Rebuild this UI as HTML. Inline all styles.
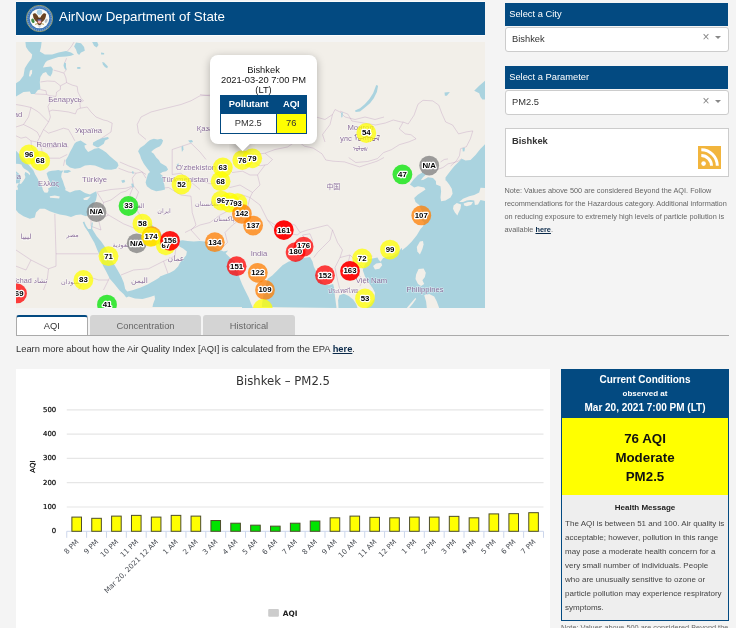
<!DOCTYPE html>
<html><head><meta charset="utf-8">
<style>
*{box-sizing:border-box;margin:0;padding:0}
html,body{width:736px;height:628px;overflow:hidden;background:#f4f4f4;font-family:"Liberation Sans",sans-serif;color:#333}
.abs{position:absolute}
#hdr{left:16px;top:1.9px;width:469px;height:33px;background:#034a81;box-shadow:0 -0.6px 0 #fff,0 0.8px 0 #fff}
#hdr .t{position:absolute;left:43px;top:7px;font-size:13.33px;color:#fff;line-height:16px;white-space:nowrap}
#map{left:16px;top:42px;width:469px;height:265.5px;background:#f2efe9;overflow:hidden}
#map svg{position:absolute;left:0;top:0}
.mk text{font:bold 7.8px "Liberation Sans",sans-serif;fill:#000;text-anchor:middle;paint-order:stroke;stroke:#fff;stroke-width:2.5px;stroke-linejoin:round}
.cl text{font:7.7px "Liberation Sans","DejaVu Sans","Noto Sans CJK SC",sans-serif;fill:#7b5a8e;text-anchor:middle;paint-order:stroke;stroke:rgba(255,255,255,.7);stroke-width:1px;opacity:.85}
#pop{left:210px;top:55px;width:107px;height:89px;background:#fff;border-radius:8px;box-shadow:0 2px 9px rgba(0,0,0,.27);font-size:9.33px;line-height:10.2px;text-align:center;color:#151515}
#pop .tx{position:absolute;left:0;top:9.5px;width:107px}
#tipc{left:229px;top:144px;width:27px;height:13.5px;overflow:hidden}
#tip{left:7.9px;top:-5.9px;width:11.3px;height:11.3px;background:#fff;transform:rotate(45deg);box-shadow:0 2px 9px rgba(0,0,0,.4)}
#popcover{left:220px;top:130px;width:87px;height:14px;background:#fff}
#ptab{left:220px;top:95px;width:87px;height:38.6px;border:1px solid #034a81;background:#fff}
#ptab .h{position:absolute;left:0;top:0;width:85px;height:17.6px;background:#034a81;color:#fff;font-weight:bold;font-size:9.33px;line-height:17px}
#ptab .c{position:absolute;font-size:9.33px;line-height:19px;text-align:center;color:#333}
.ph{left:505.2px;width:222.8px;height:23px;background:#034a81;color:#fff;font-size:9.33px;line-height:22.5px;padding-left:4px}
.sel{left:505px;width:223.5px;height:24px;background:#fff;border:1px solid #ccc;border-radius:3px;font-size:9.33px;line-height:22px;padding-left:6px;color:#333}
.sel .x{position:absolute;right:18px;top:-1.6px;font-size:12px;color:#888}
.sel .a{position:absolute;right:6.5px;top:8.4px;width:0;height:0;border-left:3px solid transparent;border-right:3px solid transparent;border-top:3px solid #888}
#rss{left:505px;top:128px;width:223.5px;height:48.5px;background:#fff;border:1px solid #ccc}
#rss b{position:absolute;left:6px;top:5.5px;font-size:9.33px;line-height:12px;color:#333}
.note{left:504.5px;top:185.3px;width:232px;font-size:7.33px;line-height:12.85px;color:#666;white-space:nowrap}
.note b,.learn b{color:#0b2a4a;text-decoration:underline}
#tabline{left:16px;top:335px;width:713px;height:1px;background:#aaa}
.tab{top:315px;height:20px;font-size:9.33px;line-height:23.8px;text-align:center;color:#666;background:#d4d4d4;border-radius:3px 3px 0 0}
#tab1{left:16px;width:71.6px;background:#fff;color:#333;border:1px solid #aaa;border-top:2px solid #034a81;border-bottom:none;height:21px;line-height:19px}
.learn{left:16px;top:342.7px;font-size:9.33px;line-height:12px;color:#333;white-space:nowrap}
#chart{left:16px;top:369px;width:534px;height:259px;background:#fff}
#chart svg{position:absolute;left:0;top:0}
#chart text{font-family:"DejaVu Sans","Liberation Sans",sans-serif}
.yl{font-size:6.9px;fill:#000;stroke:#000;stroke-width:.2px}
.xl{font-size:7.2px;fill:#4a4e55}
#cc{left:561px;top:369px;width:168px;height:251.5px;background:#eee;border:1px solid #034a81}
#cc .h{position:absolute;left:0;top:0;width:166px;height:48.4px;background:#034a81;color:#fff;text-align:center;font-weight:bold;font-size:10px}
#cc .y{position:absolute;left:0;top:48.4px;width:166px;height:77px;background:#ffff00;color:#111;text-align:center;font-weight:bold;font-size:13.33px;line-height:19.3px;padding-top:10.2px}
#cc .hm{position:absolute;left:0;top:131.7px;width:166px;text-align:center;font-weight:bold;font-size:8px;line-height:12px;color:#222}
#cc .tx{position:absolute;left:3.1px;top:146.7px;width:170px;font-size:8px;line-height:14.05px;color:#444;white-space:nowrap}
.note2{left:561px;top:621.7px;font-size:7.33px;line-height:12px;color:#666;white-space:nowrap}
</style></head><body>
<div class="abs" id="hdr">
<svg class="abs" style="left:9.9px;top:3px" width="27" height="27" viewBox="0 0 27 27">
<circle cx="13.5" cy="13.5" r="13.1" fill="#3a72b4" stroke="#c4b45a" stroke-width="0.8"/>
<circle cx="13.5" cy="13.5" r="11.9" fill="none" stroke="#6d9bd0" stroke-width="1.6" stroke-dasharray="1.2 0.9"/>
<circle cx="13.5" cy="13.5" r="9.8" fill="#fbfbf8"/>
<circle cx="13.5" cy="7.3" r="2.7" fill="#a9d0e6"/>
<path d="M12.8 17.4 C9.6 17 7.3 14 6.9 9.4 C7.5 8.3 8.6 8 9.6 8.6 C11 9.8 12.6 11.8 13.3 13.8Z" fill="#6a4323"/>
<path d="M14.2 17.4 C17.4 17 19.7 14 20.1 9.4 C19.5 8.3 18.4 8 17.4 8.6 C16 9.8 14.4 11.8 13.7 13.8Z" fill="#6a4323"/>
<path d="M11.2 13.4 L13.5 11.4 L15.8 13.4 L15.6 19 L13.5 20.4 L11.4 19Z" fill="#5a3a20"/>
<circle cx="13.5" cy="11.6" r="1.2" fill="#f1ede2"/>
<path d="M11.7 14.4 h3.6 v3.2 q-1.8 2 -3.6 0z" fill="#ee7f86"/><rect x="11.7" y="14.4" width="3.6" height="1.2" fill="#2a4f96"/>
<path d="M12.6 15.6v2.6M13.5 15.6v3M14.4 15.6v2.6" stroke="#fff" stroke-width=".35"/>
<ellipse cx="6.9" cy="15.8" rx="1.5" ry="2.3" transform="rotate(-25 6.9 15.8)" fill="#3f8a43"/>
<ellipse cx="20.2" cy="15.8" rx="1.3" ry="2.2" transform="rotate(25 20.2 15.8)" fill="#b9bcc0"/>
<path d="M9 19.4 L11.6 18.6 M18 19.4 L15.4 18.6" stroke="#b48a2c" stroke-width=".8"/>
<path d="M11.4 20.2 L13.5 23 L15.6 20.2 Z" fill="#d6d6d6"/>
</svg>
<div class="t">AirNow Department of State</div></div>
<div class="abs" id="map">
<svg width="469" height="266" viewBox="0 0 469 266">
<path d="M58.1 0.0 L55.0 5.0 L51.2 9.4 M50.6 16.2 L48.8 20.6 L50.0 28.1 L48.1 30.6 M37.5 28.1 L42.5 29.4 L48.1 31.2 L50.0 36.2 L50.6 40.6 M24.4 40.0 L31.2 39.0 L38.8 39.4 L44.4 43.8 L50.6 40.6 M44.4 43.8 L44.4 47.5 L40.6 50.0 L40.0 54.4 L33.8 53.8 L30.6 52.5 M24.4 47.5 L30.0 48.8 L30.6 52.5 L18.8 51.9 M50.6 40.6 L56.2 43.1 L61.2 44.4 L61.9 50.0 L65.0 56.2 L67.5 58.8 L63.8 60.6 L64.4 66.2 M33.1 69.4 L36.2 68.1 L43.8 68.8 L52.5 70.0 L59.4 71.9 L61.2 67.5 L64.4 66.2 M33.8 53.8 L34.4 60.0 L31.9 64.4 L33.1 69.4 L34.4 75.0 L32.5 80.0 M64.4 66.2 L71.2 65.0 L75.0 70.0 L80.0 75.0 L87.5 78.0 M87.5 78.0 L91.2 78.8 L96.2 81.2 L95.0 90.0 L87.5 95.0 L83.8 97.5 M32.5 80.0 L30.0 83.8 L27.5 87.5 L32.5 91.2 L40.0 88.8 L47.5 86.2 L52.5 87.5 L56.2 93.8 L58.8 98.8 M27.5 87.5 L23.8 95.0 L21.2 100.0 L25.0 103.8 L32.5 105.8 L46.2 104.5 L52.5 105.0 M25.0 103.8 L26.2 110.0 L32.5 116.2 L43.8 116.2 L51.2 112.5 M48.8 117.5 L47.5 123.8 M0.0 62.5 L7.5 63.8 L15.0 65.5 L22.5 70.0 L27.5 75.0 L32.5 80.0 M15.0 65.5 L12.5 75.0 L7.5 82.5 L0.0 85.0 M7.5 82.5 L15.0 86.2 L21.2 90.0 L23.8 95.0 M21.2 100.0 L15.0 98.8 L10.0 95.0 L5.0 96.2 L0.0 93.8 M15.0 98.8 L15.5 105.0 L20.0 111.2 L18.8 117.5 L22.5 122.5 M121.2 82.5 L125.0 75.0 L135.0 70.0 L150.0 66.2 L165.0 62.5 L175.0 58.8 L184.0 53.8 L195.0 53.0 M121.2 82.5 L122.5 91.2 L130.0 97.5 M103.8 120.0 L112.5 123.8 L122.5 127.5 L130.0 132.5 M102.5 126.2 L112.5 130.0 L120.0 131.2 L126.2 130.0 L130.0 136.2 M120.0 131.2 L116.2 136.2 L117.5 143.8 M81.2 150.0 L95.0 147.5 L110.0 146.2 L117.5 143.8 L122.5 150.0 L120.0 157.0 M156.2 107.5 L156.2 132.5 L165.0 131.2 L175.0 140.0 L184.0 147.5 M156.2 107.5 L175.0 101.2 L184.0 110.0 L190.0 117.5 M38.8 171.8 L40.0 211.8 L82.5 211.8 M0.0 208.0 L15.0 218.0 L32.5 226.8 L40.0 224.2 L40.0 211.8 M32.5 226.8 L31.2 238.0 L27.5 248.0 M0.0 224.2 L10.0 228.0 L15.0 218.0 M75.0 174.2 L75.0 184.2 L85.0 188.0 L82.5 178.0 L92.5 173.0 L107.5 181.8 L120.0 186.8 L122.5 188.0 M81.2 150.5 L87.5 160.5 L95.0 158.0 L105.0 150.5 L110.0 149.2 L117.5 144.2 M87.5 160.5 L86.2 168.0 L92.5 173.0 M117.5 144.2 L113.8 153.0 L118.8 165.5 L125.0 174.2 L126.2 180.5 M105.0 233.0 L117.5 228.0 L132.5 226.8 L147.5 219.2 L158.8 214.2 L160.0 205.5 L155.0 201.8 M147.5 219.2 L152.5 233.0 L145.0 240.5 M97.5 228.0 L92.5 238.0 L87.5 248.0 M62.5 248.0 L67.5 238.0 L75.0 235.5 L82.5 238.0 L92.5 238.0 M130.0 141.8 L140.0 146.8 L152.5 145.5 L165.0 153.0 L175.0 154.2 L176.2 170.5 L180.0 183.0 L175.0 188.0 L184.0 198.0 M184.0 52.5 L194.0 53.8 M300.2 75.0 L309.0 77.5 L316.5 72.5 L319.0 67.5 L324.0 70.0 L329.0 75.0 L339.0 77.5 L349.0 75.0 L359.0 77.5 L368.0 75.0 M300.2 75.0 L294.0 85.0 L291.5 95.0 L279.0 100.0 L271.5 105.0 L259.0 107.5 L249.0 111.2 M316.5 72.5 L314.0 82.5 L306.5 92.5 L309.0 100.0 M229.0 110.0 L239.0 112.5 L249.0 111.2 L256.5 117.5 L251.5 122.5 L244.0 123.8 L237.8 120.0 L229.0 125.0 M288.5 104.2 L297.2 106.1 L306.0 111.8 L309.8 118.0 L317.2 119.2 L328.5 119.9 L336.0 122.4 L343.5 124.9 L351.0 122.4 L361.0 119.2 L368.0 115.5 M288.5 104.2 L283.5 100.5 L279.8 95.5 L277.2 93.0 M324.0 69.1 L331.9 72.1 L335.9 79.0 L347.7 81.0 L359.6 83.0 L369.4 81.0 L377.3 78.0 L385.2 80.0 L387.2 80.0 M387.2 80.0 L392.2 82.0 L398.1 73.1 L402.0 62.2 L407.0 58.3 L416.8 58.9 L422.8 63.2 L425.7 71.1 L429.7 80.0 L436.6 83.0 L442.5 91.9 L450.4 89.9 L456.8 88.9 L454.4 96.8 L450.4 104.7 L444.5 106.7 L443.5 113.6 L440.6 118.5 L434.6 124.1 M387.2 80.0 L383.3 86.9 L389.2 91.9 L395.1 92.8 L400.1 96.8 L393.1 99.8 L383.3 102.7 L375.4 107.7 L367.5 110.6 L361.5 116.6 L351.7 119.5 L339.8 120.5 L332.7 115.6 M420.1 128.0 L427.0 125.5 L432.0 121.8 L438.2 120.5 L442.0 119.2 L445.8 116.8 M424.5 143.0 L428.2 140.5 L432.0 139.9 M234.0 155.5 L244.0 163.0 L251.5 178.0 L259.0 183.0 L269.0 180.5 L279.0 183.0 L284.0 190.5 L291.5 188.0 L301.5 185.5 L311.5 183.0 L316.5 188.0 M251.5 178.0 L259.0 188.0 L269.0 190.5 L281.5 193.0 L284.0 190.5 M234.0 155.5 L231.5 165.5 L226.5 175.5 L216.5 183.0 L209.0 190.5 L211.5 200.5 L205.2 206.8 M286.5 193.0 L294.0 191.8 L296.5 198.0 L295.2 205.5 L291.5 203.0 L286.5 193.0 M316.5 188.0 L314.0 198.0 L306.5 205.5 L301.5 210.5 L297.8 215.5 M316.5 188.0 L321.5 200.5 L326.5 208.0 L324.0 215.5 L334.0 213.0 L339.0 218.0 M324.0 215.5 L319.0 225.5 L321.5 238.0 L324.0 248.0 M334.0 213.0 L331.5 223.0 L341.5 230.5 L346.5 238.0 L344.0 244.2 M339.0 218.0 L346.5 225.5 L354.0 238.0 L356.5 245.5 M339.0 218.0 L346.5 213.0 L356.5 214.2 M249.0 123.0 L241.5 133.0 L244.0 143.0 L236.5 150.5 L234.0 155.5 M234.0 155.5 L226.5 153.0 L219.0 158.0 L214.0 168.0 L204.0 173.0 L194.0 180.5 L184.0 183.0 L169.0 190.5 M184.0 138.0 L194.0 141.8 L204.0 140.5 L214.0 145.5 L224.0 143.0 L236.5 150.5 M209.0 123.0 L216.5 130.5 L226.5 129.2 L234.0 133.0 L241.5 133.0" fill="none" stroke="#b38bb8" stroke-opacity="0.4" stroke-width="0.8" stroke-linejoin="round"/>
<path d="M9.4 0.0 L25.6 0.0 L25.0 5.0 L23.8 9.4 L28.8 12.5 L36.2 12.5 L42.5 10.6 L50.0 9.0 L55.0 10.6 L58.1 12.5 L55.0 13.8 L50.0 14.4 L42.5 15.0 L36.2 16.9 L31.2 18.8 L29.4 20.6 L28.1 23.1 L26.9 25.6 L30.6 25.0 L35.0 24.4 L36.9 26.9 L36.2 31.2 L34.4 34.4 L31.9 33.1 L30.0 30.0 L26.9 31.2 L24.4 35.0 L23.8 40.0 L24.4 47.5 L21.9 48.1 L18.8 51.9 L15.0 51.9 L13.8 49.4 L7.5 50.0 L0.0 54.4 L0.0 41.2 L3.8 38.8 L7.5 33.8 L8.8 26.2 L11.9 21.2 L15.6 16.2 L16.2 12.5 L12.5 8.8 L10.0 5.0Z" fill="#aad3df"/>
<path d="M14.0 28.5 L16.2 27.8 L16.0 31.2 L14.0 35.0 L13.0 33.5Z" fill="#f2efe9"/>
<path d="M60.0 0.6 L65.0 1.2 L68.1 5.0 L68.8 8.8 L65.0 10.6 L63.1 13.1 L61.2 11.2 L60.0 7.5 L58.1 4.4Z" fill="#aad3df"/>
<path d="M76.2 0.0 L81.2 0.0 L82.5 3.1 L80.6 5.6 L78.1 3.8Z" fill="#aad3df"/>
<path d="M48.1 20.6 L50.0 21.2 L50.0 25.0 L50.6 28.1 L48.8 26.9 L47.5 23.8Z" fill="#aad3df"/>
<path d="M85.0 10.6 L88.1 11.0 L88.1 12.5 L85.2 12.5Z" fill="#aad3df"/>
<path d="M86.2 20.0 L88.1 20.6 L91.9 24.4 L91.2 26.2 L88.8 25.0 L86.9 22.5Z" fill="#aad3df"/>
<path d="M61.2 25.0 L64.4 25.0 L64.4 26.9 L61.2 26.9Z" fill="#aad3df"/>
<path d="M60.2 99.9 L64.6 98.6 L68.4 101.1 L70.9 102.4 L68.4 103.6 L69.0 106.1 L72.1 109.9 L75.2 108.6 L78.4 106.8 L82.8 106.1 L86.5 108.0 L90.2 110.5 L94.0 114.2 L97.8 117.4 L101.5 120.5 L102.5 123.6 L100.2 126.8 L95.2 127.8 L89.0 127.4 L84.0 125.5 L79.0 123.6 L74.0 123.0 L69.0 123.6 L64.0 126.1 L59.0 126.8 L54.0 125.5 L50.2 122.4 L49.6 118.6 L52.1 114.2 L54.0 109.9 L56.5 105.5 L58.4 101.8Z" fill="#aad3df"/>
<path d="M77.1 100.5 L81.5 98.0 L86.5 96.1 L92.1 94.9 L92.8 96.8 L89.0 98.6 L87.8 101.8 L85.2 103.6 L82.1 105.5 L80.9 105.2 L79.0 104.2 L76.8 103.0Z" fill="#aad3df"/>
<path d="M47.8 128.6 L52.8 128.0 L55.2 129.2 L51.5 131.1 L47.8 130.8Z" fill="#aad3df"/>
<path d="M105.2 138.6 L108.4 137.8 L109.2 139.9 L106.5 141.1Z" fill="#aad3df"/>
<path d="M115.2 141.8 L117.1 141.5 L118.0 144.9 L116.2 145.5Z" fill="#aad3df"/>
<path d="M115.9 129.2 L117.5 129.5 L117.8 131.8 L116.2 131.5Z" fill="#aad3df"/>
<path d="M134.0 98.0 L137.8 96.8 L141.5 97.4 L145.2 96.8 L147.1 98.6 L145.9 101.8 L144.0 104.2 L140.2 106.1 L137.1 108.0 L135.2 109.9 L137.8 111.8 L140.2 115.5 L142.8 118.0 L144.6 121.1 L147.1 122.4 L150.2 124.2 L152.1 127.4 L150.2 129.2 L146.5 129.9 L144.0 131.8 L146.5 133.6 L147.1 138.0 L148.4 143.0 L149.0 147.4 L145.2 148.6 L140.2 149.2 L135.2 147.4 L130.9 144.2 L129.6 140.5 L130.9 135.5 L132.1 131.8 L134.0 129.9 L130.9 126.1 L127.8 121.8 L125.2 116.8 L124.0 113.0 L122.1 109.2 L124.0 106.1 L128.4 103.0 L131.5 99.9Z" fill="#aad3df"/>
<path d="M160.9 122.0 L163.0 121.5 L162.5 124.9 L160.9 125.2Z" fill="#aad3df"/>
<path d="M165.5 104.9 L167.1 103.6 L167.5 107.4 L165.9 109.9Z" fill="#aad3df"/>
<path d="M172.1 98.6 L175.9 98.0 L177.1 99.9 L174.0 100.8Z" fill="#aad3df"/>
<path d="M360.2 43.1 L362.1 43.8 L360.9 50.0 L357.8 56.2 L354.0 61.2 L349.0 65.6 L344.0 69.4 L339.6 70.0 L339.0 68.5 L344.0 66.2 L349.0 61.9 L353.4 56.9 L357.1 51.2 L359.0 46.2Z" fill="#aad3df"/>
<path d="M325.2 70.6 L326.8 70.2 L326.5 75.0 L325.2 75.6Z" fill="#aad3df"/>
<path d="M458.2 48.8 L463.2 43.8 L469.0 38.8 L469.0 57.5 L466.4 57.5 L464.5 55.0 L463.2 51.2Z" fill="#aad3df"/>
<path d="M428.5 50.6 L433.9 50.0 L430.8 53.8 L428.9 53.8Z" fill="#aad3df"/>
<path d="M0.0 108.8 L2.4 111.3 L4.1 112.9 L17.5 128.4 L19.2 132.4 L21.2 135.7 L23.6 140.6 L26.1 144.7 L26.9 147.9 L28.5 150.4 L31.4 150.8 L32.6 148.7 L32.2 146.3 L34.2 145.5 L35.9 143.9 L34.2 140.6 L32.6 137.3 L31.4 134.1 L30.6 131.2 L32.6 129.6 L35.9 128.8 L39.1 128.4 L42.4 128.0 L44.8 128.8 L47.3 128.4 L45.6 131.6 L45.2 134.9 L46.9 139.0 L48.1 143.0 L49.7 147.1 L49.0 148.0 L54.0 150.5 L59.0 148.6 L64.0 148.0 L69.0 151.0 L74.0 152.4 L80.2 149.2 L81.0 153.0 L80.0 158.0 L77.5 163.0 L75.0 169.0 L72.5 173.0 L70.0 174.2 L65.0 172.4 L60.0 173.0 L55.0 174.9 L50.0 173.6 L43.8 172.4 L38.8 171.1 L33.8 169.2 L28.8 166.8 L23.8 166.8 L20.0 170.5 L18.8 175.5 L13.8 176.8 L7.5 174.2 L2.5 171.1 L0.0 168.0Z" fill="#aad3df"/>
<path d="M-0.4 121.7 L3.3 121.9 L5.4 122.5 L6.5 124.7 L8.0 126.6 L12.1 129.1 L14.2 131.5 L13.6 133.2 L12.2 131.6 L10.4 130.4 L9.2 130.0 L8.6 132.4 L9.4 134.9 L8.9 136.6 L6.9 139.4 L4.9 142.1 L3.3 141.5 L4.3 138.6 L4.8 135.4 L3.2 131.9 L-0.4 128.9Z" fill="#f2efe9"/>
<path d="M-0.4 141.7 L2.9 141.0 L1.2 144.4 L2.0 146.4 L1.5 148.3 L-0.4 147.7Z" fill="#f2efe9"/>
<path d="M33.8 154.2 L38.8 153.6 L43.8 154.5 L43.1 156.5 L37.5 156.1 L34.0 155.8Z" fill="#f2efe9"/>
<path d="M67.1 156.8 L70.0 155.2 L74.6 154.2 L73.1 156.1 L71.2 158.0 L68.1 158.0Z" fill="#f2efe9"/>
<path d="M70.9 187.0 L76.2 187.0 L80.9 194.5 L85.2 199.5 L89.0 205.1 L92.8 212.0 L96.5 219.5 L100.9 227.0 L105.2 234.5 L107.8 240.8 L109.2 247.0 L111.2 249.5 L116.5 248.2 L124.0 245.8 L131.5 242.6 L139.0 238.2 L146.0 233.9 L146.0 265.0 L140.5 265.0 L141.5 257.6 L139.2 253.2 L134.0 255.1 L126.5 257.0 L119.0 256.4 L112.8 254.5 L110.2 255.5 L107.8 252.2 L103.4 248.2 L98.4 242.0 L94.0 237.0 L90.2 229.5 L86.8 223.2 L84.0 213.9 L80.9 207.0 L78.4 200.8 L74.0 193.2Z" fill="#aad3df"/>
<path d="M132.8 179.8 L137.8 184.8 L142.8 189.8 L146.5 193.5 L152.8 197.2 L159.0 197.9 L159.6 201.0 L155.2 203.5 L150.2 206.0 L146.5 205.4 L142.8 202.2 L140.2 198.5 L137.8 193.5 L135.2 188.5 L133.4 183.5Z" fill="#aad3df"/>
<path d="M162.1 198.9 L166.5 198.2 L171.5 198.9 L177.8 199.5 L184.0 198.9 L189.0 199.5 L194.0 202.6 L201.5 207.0 L207.8 209.5 L212.1 208.5 L209.6 211.4 L214.0 215.8 L219.0 219.5 L221.5 229.5 L224.0 237.0 L226.0 242.0 L226.0 265.0 L136.5 265.0 L137.1 262.0 L139.0 257.0 L138.4 252.6 L134.0 253.2 L134.0 241.4 L137.8 240.1 L142.1 238.2 L144.0 234.5 L149.0 232.6 L154.0 230.8 L158.4 228.2 L162.1 224.5 L164.0 220.8 L167.1 217.0 L170.2 213.2 L170.9 209.5 L167.1 206.4 L163.4 204.5Z" fill="#aad3df"/>
<path d="M226.0 242.0 L229.0 248.2 L232.8 255.8 L235.2 262.0 L237.0 266.0 L226.0 266.0Z" fill="#aad3df"/>
<path d="M245.9 265.0 L246.2 260.8 L247.8 252.0 L250.2 242.0 L251.5 237.0 L256.5 233.2 L261.5 228.2 L266.5 223.2 L272.8 219.5 L279.0 218.2 L289.0 215.8 L294.0 215.1 L296.5 219.5 L297.8 224.5 L300.2 229.5 L301.5 234.5 L307.8 242.0 L312.8 243.2 L317.1 242.0 L318.4 247.0 L319.0 254.5 L320.0 262.0 L320.5 266.0Z" fill="#aad3df"/>
<path d="M322.5 266.0 L322.1 258.2 L323.4 253.2 L327.8 251.8 L332.8 253.9 L337.1 257.6 L340.2 262.0 L341.5 266.0Z" fill="#aad3df"/>
<path d="M386.0 205.8 L381.5 210.8 L376.5 213.9 L371.5 214.8 L367.1 216.0 L364.6 219.8 L362.8 218.0 L361.5 215.5 L356.5 216.5 L351.5 217.2 L348.0 224.5 L346.8 228.2 L349.0 234.5 L352.8 240.8 L356.5 245.8 L359.0 250.8 L358.4 257.0 L355.2 261.0 L350.2 266.0 L386.0 266.0Z" fill="#aad3df"/>
<path d="M357.1 223.9 L360.2 221.4 L365.2 220.8 L366.2 223.2 L363.4 226.8 L359.0 227.6Z" fill="#f2efe9"/>
<path d="M393.9 142.4 L397.6 137.4 L402.0 133.0 L406.4 130.5 L409.8 132.8 L407.0 135.2 L404.8 138.2 L407.6 137.8 L412.0 135.2 L417.0 136.1 L420.1 139.2 L429.5 139.2 L429.5 135.5 L433.2 130.5 L438.2 124.2 L442.0 120.5 L445.8 116.8 L449.5 118.6 L454.5 118.0 L459.5 113.0 L464.5 106.8 L470.0 101.1 L470.0 266.0 L386.0 266.0 L386.0 208.0 L384.5 209.5 L390.8 204.5 L395.8 199.5 L400.8 193.2 L404.5 187.0 L407.0 184.2 L408.2 180.5 L405.5 178.0 L407.0 174.2 L406.4 170.5 L403.2 163.0 L399.5 159.9 L398.2 156.1 L402.0 152.4 L405.8 149.9 L409.5 147.4 L408.2 145.5 L402.0 144.2 L398.2 145.5 L393.9 142.4Z" fill="#aad3df"/>
<path d="M419.9 138.6 L420.1 142.4 L424.5 144.2 L425.1 149.2 L424.5 155.5 L425.1 159.2 L429.5 158.6 L434.5 155.5 L436.6 151.8 L435.8 146.8 L433.2 142.4 L430.1 138.6Z" fill="#f2efe9"/>
<path d="M437.6 163.6 L440.8 161.1 L445.1 162.4 L444.5 166.8 L442.6 170.5 L441.4 173.6 L438.9 170.5 L437.0 166.8Z" fill="#f2efe9"/>
<path d="M443.2 159.9 L447.0 156.8 L453.2 154.2 L458.2 153.0 L463.2 150.5 L464.5 145.8 L470.0 146.0 L470.0 159.2 L464.5 158.0 L462.0 162.4 L458.9 163.0 L458.2 158.6 L454.5 158.0 L450.8 158.6 L447.0 159.9Z" fill="#f2efe9"/>
<path d="M447.6 161.5 L452.0 159.9 L457.0 159.9 L455.1 163.0 L450.8 164.2 L448.2 163.6Z" fill="#f2efe9"/>
<path d="M446.4 106.1 L448.9 105.8 L448.5 109.2 L446.8 109.5Z" fill="#aad3df"/>
<path d="M403.9 199.5 L407.0 198.9 L407.6 202.6 L406.4 207.0 L403.9 212.6 L401.4 209.5 L400.8 205.1Z" fill="#f2efe9"/>
<path d="M402.6 227.0 L407.6 226.4 L409.8 230.8 L408.9 235.1 L406.4 238.2 L408.2 242.0 L405.1 243.9 L402.0 242.0 L399.5 237.0 L400.1 232.6Z" fill="#f2efe9"/>
<path d="M408.2 253.2 L413.2 252.0 L418.2 254.5 L420.8 259.5 L423.2 266.0 L410.8 266.0 L410.1 259.5Z" fill="#f2efe9"/>
<path d="M390.8 266.0 L395.8 260.1 L399.5 255.8 L400.1 257.0 L397.0 261.4 L393.2 266.0Z" fill="#f2efe9"/>
<path d="M424.5 65 L428.2 62.5 L432 61.9" transform="translate(0,55)" fill="none" stroke="#b38bb8" stroke-opacity="0.4" stroke-width="0.8"/><polyline points="67.5,179.9 69.4,184.25 71.9,188 73.75,189.9" fill="none" stroke="#aad3df" stroke-width="1.6"/>
<polyline points="76.25,180.5 75.6,186.75 74.5,189" fill="none" stroke="#aad3df" stroke-width="1.2"/>
<g class="cl">
<text x="49.0" y="59.5" style="font-size:7.7px">Беларусь</text>
<text x="72.5" y="91.0" style="font-size:7.7px">Україна</text>
<text x="36.0" y="104.8" style="font-size:7.7px">România</text>
<text x="78.5" y="139.8" style="font-size:7.7px">Türkiye</text>
<text x="32.5" y="144.1" style="font-size:7.7px">Ελλάς</text>
<text x="2.0" y="137.0" style="font-size:7.7px">ia</text>
<text x="2.0" y="75.0" style="font-size:7.7px">ad</text>
<text x="189.0" y="88.5" style="font-size:7.7px">Қаза</text>
<text x="180.0" y="127.8" style="font-size:7.7px">O'zbekiston</text>
<text x="169.0" y="139.8" style="font-size:7.7px">Türkmenistan</text>
<text x="148.0" y="171.0" style="font-size:6.4px">ایران</text>
<text x="108.5" y="205.0" style="font-size:6.4px">السعودية</text>
<text x="56.5" y="195.0" style="font-size:6.4px">مصر</text>
<text x="10.0" y="197.0" style="font-size:7.4px">ليبيا</text>
<text x="14.0" y="240.9" style="font-size:7.2px">Tchad تشاد</text>
<text x="56.0" y="241.8" style="font-size:6.4px">السودان</text>
<text x="123.5" y="241.0" style="font-size:7.6px">اليمن</text>
<text x="160.0" y="219.0" style="font-size:7.6px">عمان</text>
<text x="192.0" y="163.5" style="font-size:6.4px">افغانستان</text>
<text x="208.0" y="179.0" style="font-size:6.4px">پاکستان</text>
<text x="243.0" y="214.0" style="font-size:7.7px">India</text>
<text x="317.3" y="146.5" style="font-size:6.9px">中国</text>
<text x="344.5" y="88.2" style="font-size:7.7px">Монгол</text>
<text x="344.0" y="98.5" style="font-size:7.7px">улс ᠮᠣᠩᠭᠣᠯ</text>
<text x="344.0" y="108.5" style="font-size:6px">ᠤᠯᠤᠰ</text>
<text x="355.5" y="241.0" style="font-size:7.7px">Việt Nam</text>
<text x="327.0" y="251.2" style="font-size:6.2px">ประเทศไทย</text>
<text x="409.0" y="250.0" style="font-size:7.7px">Philippines</text>
<text x="120.0" y="165.5" style="font-size:6.4px">العراق</text>
</g>
<g>
<circle cx="13.0" cy="112.5" r="9.9" fill="#ffff00" fill-opacity="0.75"/>
<circle cx="24.2" cy="118.8" r="9.9" fill="#ffff00" fill-opacity="0.75"/>
<circle cx="165.5" cy="142.5" r="9.9" fill="#ffff00" fill-opacity="0.75"/>
<circle cx="80.5" cy="170.0" r="9.9" fill="#7e7e7e" fill-opacity="0.75"/>
<circle cx="112.5" cy="164.0" r="9.9" fill="#00e400" fill-opacity="0.75"/>
<circle cx="126.4" cy="181.7" r="9.9" fill="#ffff00" fill-opacity="0.75"/>
<circle cx="120.7" cy="201.3" r="9.9" fill="#7e7e7e" fill-opacity="0.75"/>
<circle cx="135.7" cy="194.2" r="9.9" fill="#ff9a00" fill-opacity="0.8"/>
<circle cx="134.8" cy="195.1" r="9.6" fill="#ffe600" fill-opacity="0.9"/>
<circle cx="149.8" cy="203.3" r="9.9" fill="#ffff00" fill-opacity="0.75"/>
<circle cx="154.0" cy="198.8" r="9.9" fill="#ff0000" fill-opacity="0.9"/>
<circle cx="92.5" cy="214.2" r="9.9" fill="#ffff00" fill-opacity="0.75"/>
<circle cx="67.4" cy="238.0" r="9.9" fill="#ffff00" fill-opacity="0.75"/>
<circle cx="1.0" cy="251.4" r="9.9" fill="#ff0000" fill-opacity="0.75"/>
<circle cx="91.0" cy="262.6" r="9.9" fill="#00e400" fill-opacity="0.75"/>
<circle cx="236.2" cy="116.3" r="9.9" fill="#ffff00" fill-opacity="0.75"/>
<circle cx="226.3" cy="118.1" r="9.9" fill="#ffff00" fill-opacity="0.75"/>
<circle cx="206.8" cy="125.5" r="9.9" fill="#ffff00" fill-opacity="0.75"/>
<circle cx="204.6" cy="139.2" r="9.9" fill="#ffff00" fill-opacity="0.75"/>
<circle cx="205.2" cy="158.6" r="9.9" fill="#ffff00" fill-opacity="0.75"/>
<circle cx="213.4" cy="160.5" r="9.9" fill="#ffff00" fill-opacity="0.75"/>
<circle cx="221.5" cy="161.1" r="9.9" fill="#ffff00" fill-opacity="0.75"/>
<circle cx="225.9" cy="171.8" r="9.9" fill="#ff7e00" fill-opacity="0.75"/>
<circle cx="237.1" cy="183.6" r="9.9" fill="#ff7e00" fill-opacity="0.75"/>
<circle cx="267.8" cy="188.1" r="9.9" fill="#ff0000" fill-opacity="0.96"/>
<circle cx="287.6" cy="204.7" r="9.9" fill="#ff0000" fill-opacity="0.75"/>
<circle cx="279.6" cy="210.1" r="9.9" fill="#ff0000" fill-opacity="0.75"/>
<circle cx="198.8" cy="200.2" r="9.9" fill="#ff7e00" fill-opacity="0.75"/>
<circle cx="220.6" cy="224.2" r="9.9" fill="#ff0000" fill-opacity="0.75"/>
<circle cx="241.8" cy="230.8" r="9.9" fill="#ff7e00" fill-opacity="0.75"/>
<circle cx="249.0" cy="248.0" r="9.9" fill="#ff7e00" fill-opacity="0.75"/>
<circle cx="246.8" cy="267.0" r="9.9" fill="#ffff00" fill-opacity="0.75"/>
<circle cx="350.3" cy="91.0" r="9.9" fill="#ffff00" fill-opacity="0.75"/>
<circle cx="386.4" cy="132.4" r="9.9" fill="#00e400" fill-opacity="0.75"/>
<circle cx="413.2" cy="123.6" r="9.9" fill="#7e7e7e" fill-opacity="0.75"/>
<circle cx="405.3" cy="173.4" r="9.9" fill="#ff7e00" fill-opacity="0.75"/>
<circle cx="374.0" cy="207.6" r="9.9" fill="#ffff00" fill-opacity="0.75"/>
<circle cx="346.2" cy="216.4" r="9.9" fill="#ffff00" fill-opacity="0.75"/>
<circle cx="334.0" cy="228.9" r="9.9" fill="#ff0000" fill-opacity="0.93"/>
<circle cx="309.0" cy="233.2" r="9.9" fill="#ff0000" fill-opacity="0.75"/>
<circle cx="349.0" cy="256.4" r="9.9" fill="#ffff00" fill-opacity="0.75"/>
</g>
<g class="mk">
<text x="13.0" y="114.9">96</text>
<text x="24.2" y="121.2">68</text>
<text x="165.5" y="144.9">52</text>
<text x="80.5" y="172.4">N/A</text>
<text x="112.5" y="166.4">33</text>
<text x="126.4" y="184.1">58</text>
<text x="120.7" y="203.7">N/A</text>
<text x="135.1" y="197.2">174</text>
<text x="149.8" y="205.7">67</text>
<text x="92.5" y="216.7">71</text>
<text x="67.4" y="240.4">83</text>
<text x="1.0" y="253.8">169</text>
<text x="91.0" y="265.0">41</text>
<text x="236.2" y="118.7">79</text>
<text x="226.3" y="120.5">76</text>
<text x="206.8" y="127.9">63</text>
<text x="204.6" y="141.7">68</text>
<text x="205.2" y="161.0">96</text>
<text x="213.4" y="162.9">77</text>
<text x="225.9" y="174.2">142</text>
<text x="237.1" y="186.0">137</text>
<text x="267.8" y="190.5">161</text>
<text x="279.6" y="211.6">180</text>
<text x="198.8" y="202.6">134</text>
<text x="220.6" y="226.7">151</text>
<text x="241.8" y="233.2">122</text>
<text x="249.0" y="250.4">109</text>
<text x="350.3" y="93.4">54</text>
<text x="386.4" y="134.8">47</text>
<text x="413.2" y="126.0">N/A</text>
<text x="405.3" y="175.8">107</text>
<text x="374.0" y="210.0">99</text>
<text x="346.2" y="218.8">72</text>
<text x="334.0" y="231.3">163</text>
<text x="309.0" y="235.7">152</text>
<text x="349.0" y="258.8">53</text>
<text x="154.0" y="201.2">156</text>
<text x="221.5" y="163.5">93</text>
<text x="287.6" y="206.2">176</text>
</g>
</svg>
</div>
<div class="abs" id="pop"><div class="tx">Bishkek<br>2021-03-20 7:00 PM<br>(LT)</div></div>
<div class="abs" id="tipc"><div class="abs" id="tip"></div></div>
<div class="abs" id="ptab"><div class="h"><span style="position:absolute;left:0;width:55.5px;text-align:center">Pollutant</span><span style="position:absolute;left:55.5px;width:29.5px;text-align:center">AQI</span></div>
<div class="c" style="left:0;top:17.6px;width:55.5px;height:19px;border-right:1px solid #034a81">PM2.5</div>
<div class="c" style="left:55.5px;top:17.6px;width:29.5px;height:19px;background:#ffff00">76</div></div>

<div class="abs ph" style="top:3px">Select a City</div>
<div class="abs sel" style="top:27px;height:25px;line-height:22.6px">Bishkek<span class="x">×</span><span class="a"></span></div>
<div class="abs ph" style="top:66px">Select a Parameter</div>
<div class="abs sel" style="top:90.4px;height:24.2px;line-height:22.6px">PM2.5<span class="x">×</span><span class="a"></span></div>
<div class="abs" id="rss"><b>Bishkek</b>
<svg class="abs" style="left:192px;top:17px" width="23" height="23" viewBox="0 0 23 23"><rect width="23" height="23" fill="#f2b53d"/>
<circle cx="5.6" cy="17.6" r="2.3" fill="#fff"/>
<path d="M3.3 9.6 A10.2 10.2 0 0 1 13.5 19.8" fill="none" stroke="#fff" stroke-width="3"/>
<path d="M3.3 3.8 A16 16 0 0 1 19.3 19.8" fill="none" stroke="#fff" stroke-width="3"/>
</svg></div>
<div class="abs note">Note: Values above 500 are considered Beyond the AQI. Follow<br>recommendations for the Hazardous category. Additional information<br>on reducing exposure to extremely high levels of particle pollution is<br>available <b>here</b>.</div>

<div class="abs tab" id="tab1">AQI</div>
<div class="abs tab" style="left:90px;width:111px">Concentration</div>
<div class="abs tab" style="left:203px;width:92px">Historical</div>
<div class="abs" id="tabline"></div>
<div class="abs learn">Learn more about how the Air Quality Index [AQI] is calculated from the EPA <b>here</b>.</div>

<div class="abs" id="chart">
<svg width="534" height="259" viewBox="0 0 534 259">
<text x="267" y="15.5" text-anchor="middle" style="font-size:11.7px;fill:#333">Bishkek – PM2.5</text>
<text transform="translate(19,97.6) rotate(-90)" text-anchor="middle" style="font-size:6.9px;fill:#000;stroke:#000;stroke-width:.2px">AQI</text>
<line x1="50.75" x2="527.50" y1="40.80" y2="40.80" stroke="#e6e6e6" stroke-width="1.2"/>
<line x1="50.75" x2="527.50" y1="65.10" y2="65.10" stroke="#e6e6e6" stroke-width="1.2"/>
<line x1="50.75" x2="527.50" y1="89.40" y2="89.40" stroke="#e6e6e6" stroke-width="1.2"/>
<line x1="50.75" x2="527.50" y1="113.70" y2="113.70" stroke="#e6e6e6" stroke-width="1.2"/>
<line x1="50.75" x2="527.50" y1="138.00" y2="138.00" stroke="#e6e6e6" stroke-width="1.2"/>
<line x1="50.75" x2="527.50" y1="162.30" y2="162.30" stroke="#ccd6eb" stroke-width="1"/>
<line x1="50.75" x2="50.75" y1="162.30" y2="168.80" stroke="#ccd6eb" stroke-width="1"/>
<line x1="70.61" x2="70.61" y1="162.30" y2="168.80" stroke="#ccd6eb" stroke-width="1"/>
<line x1="90.48" x2="90.48" y1="162.30" y2="168.80" stroke="#ccd6eb" stroke-width="1"/>
<line x1="110.34" x2="110.34" y1="162.30" y2="168.80" stroke="#ccd6eb" stroke-width="1"/>
<line x1="130.21" x2="130.21" y1="162.30" y2="168.80" stroke="#ccd6eb" stroke-width="1"/>
<line x1="150.07" x2="150.07" y1="162.30" y2="168.80" stroke="#ccd6eb" stroke-width="1"/>
<line x1="169.94" x2="169.94" y1="162.30" y2="168.80" stroke="#ccd6eb" stroke-width="1"/>
<line x1="189.80" x2="189.80" y1="162.30" y2="168.80" stroke="#ccd6eb" stroke-width="1"/>
<line x1="209.67" x2="209.67" y1="162.30" y2="168.80" stroke="#ccd6eb" stroke-width="1"/>
<line x1="229.53" x2="229.53" y1="162.30" y2="168.80" stroke="#ccd6eb" stroke-width="1"/>
<line x1="249.40" x2="249.40" y1="162.30" y2="168.80" stroke="#ccd6eb" stroke-width="1"/>
<line x1="269.26" x2="269.26" y1="162.30" y2="168.80" stroke="#ccd6eb" stroke-width="1"/>
<line x1="289.12" x2="289.12" y1="162.30" y2="168.80" stroke="#ccd6eb" stroke-width="1"/>
<line x1="308.99" x2="308.99" y1="162.30" y2="168.80" stroke="#ccd6eb" stroke-width="1"/>
<line x1="328.85" x2="328.85" y1="162.30" y2="168.80" stroke="#ccd6eb" stroke-width="1"/>
<line x1="348.72" x2="348.72" y1="162.30" y2="168.80" stroke="#ccd6eb" stroke-width="1"/>
<line x1="368.58" x2="368.58" y1="162.30" y2="168.80" stroke="#ccd6eb" stroke-width="1"/>
<line x1="388.45" x2="388.45" y1="162.30" y2="168.80" stroke="#ccd6eb" stroke-width="1"/>
<line x1="408.31" x2="408.31" y1="162.30" y2="168.80" stroke="#ccd6eb" stroke-width="1"/>
<line x1="428.18" x2="428.18" y1="162.30" y2="168.80" stroke="#ccd6eb" stroke-width="1"/>
<line x1="448.04" x2="448.04" y1="162.30" y2="168.80" stroke="#ccd6eb" stroke-width="1"/>
<line x1="467.91" x2="467.91" y1="162.30" y2="168.80" stroke="#ccd6eb" stroke-width="1"/>
<line x1="487.77" x2="487.77" y1="162.30" y2="168.80" stroke="#ccd6eb" stroke-width="1"/>
<line x1="507.64" x2="507.64" y1="162.30" y2="168.80" stroke="#ccd6eb" stroke-width="1"/>
<line x1="527.50" x2="527.50" y1="162.30" y2="168.80" stroke="#ccd6eb" stroke-width="1"/>
<rect x="55.88" y="148.09" width="9.6" height="14.21" fill="#ffff00" stroke="#4d4d2a" stroke-width="1"/>
<rect x="75.75" y="149.31" width="9.6" height="12.98" fill="#ffff00" stroke="#4d4d2a" stroke-width="1"/>
<rect x="95.61" y="147.11" width="9.6" height="15.19" fill="#ffff00" stroke="#4d4d2a" stroke-width="1"/>
<rect x="115.48" y="146.37" width="9.6" height="15.92" fill="#ffff00" stroke="#4d4d2a" stroke-width="1"/>
<rect x="135.34" y="148.09" width="9.6" height="14.21" fill="#ffff00" stroke="#4d4d2a" stroke-width="1"/>
<rect x="155.21" y="146.37" width="9.6" height="15.92" fill="#ffff00" stroke="#4d4d2a" stroke-width="1"/>
<rect x="175.07" y="147.11" width="9.6" height="15.19" fill="#ffff00" stroke="#4d4d2a" stroke-width="1"/>
<rect x="194.93" y="151.52" width="9.6" height="10.78" fill="#00e400" stroke="#4d4d2a" stroke-width="1"/>
<rect x="214.80" y="154.21" width="9.6" height="8.08" fill="#00e400" stroke="#4d4d2a" stroke-width="1"/>
<rect x="234.66" y="156.17" width="9.6" height="6.12" fill="#00e400" stroke="#4d4d2a" stroke-width="1"/>
<rect x="254.53" y="157.15" width="9.6" height="5.14" fill="#00e400" stroke="#4d4d2a" stroke-width="1"/>
<rect x="274.39" y="154.21" width="9.6" height="8.08" fill="#00e400" stroke="#4d4d2a" stroke-width="1"/>
<rect x="294.26" y="152.01" width="9.6" height="10.29" fill="#00e400" stroke="#4d4d2a" stroke-width="1"/>
<rect x="314.12" y="148.82" width="9.6" height="13.47" fill="#ffff00" stroke="#4d4d2a" stroke-width="1"/>
<rect x="333.99" y="147.11" width="9.6" height="15.19" fill="#ffff00" stroke="#4d4d2a" stroke-width="1"/>
<rect x="353.85" y="148.33" width="9.6" height="13.96" fill="#ffff00" stroke="#4d4d2a" stroke-width="1"/>
<rect x="373.72" y="148.82" width="9.6" height="13.47" fill="#ffff00" stroke="#4d4d2a" stroke-width="1"/>
<rect x="393.58" y="148.09" width="9.6" height="14.21" fill="#ffff00" stroke="#4d4d2a" stroke-width="1"/>
<rect x="413.44" y="148.09" width="9.6" height="14.21" fill="#ffff00" stroke="#4d4d2a" stroke-width="1"/>
<rect x="433.31" y="147.35" width="9.6" height="14.95" fill="#ffff00" stroke="#4d4d2a" stroke-width="1"/>
<rect x="453.17" y="148.82" width="9.6" height="13.47" fill="#ffff00" stroke="#4d4d2a" stroke-width="1"/>
<rect x="473.04" y="144.90" width="9.6" height="17.39" fill="#ffff00" stroke="#4d4d2a" stroke-width="1"/>
<rect x="492.90" y="144.66" width="9.6" height="17.64" fill="#ffff00" stroke="#4d4d2a" stroke-width="1"/>
<rect x="512.77" y="143.68" width="9.6" height="18.62" fill="#ffff00" stroke="#4d4d2a" stroke-width="1"/>
<text class="yl" x="40.2" y="164.0" text-anchor="end">0</text>
<text class="yl" x="40.2" y="140.0" text-anchor="end">100</text>
<text class="yl" x="40.2" y="116.0" text-anchor="end">200</text>
<text class="yl" x="40.2" y="91.0" text-anchor="end">300</text>
<text class="yl" x="40.2" y="67.0" text-anchor="end">400</text>
<text class="yl" x="40.2" y="43.0" text-anchor="end">500</text>
<text class="xl" text-anchor="end" transform="translate(63.2,173.3) rotate(-45)">8 PM</text>
<text class="xl" text-anchor="end" transform="translate(83.0,173.3) rotate(-45)">9 PM</text>
<text class="xl" text-anchor="end" transform="translate(102.9,173.3) rotate(-45)">10 PM</text>
<text class="xl" text-anchor="end" transform="translate(122.8,173.3) rotate(-45)">11 PM</text>
<text class="xl" text-anchor="end" transform="translate(142.6,173.3) rotate(-45)">Mar 20, 2021 12 AM</text>
<text class="xl" text-anchor="end" transform="translate(162.5,173.3) rotate(-45)">1 AM</text>
<text class="xl" text-anchor="end" transform="translate(182.4,173.3) rotate(-45)">2 AM</text>
<text class="xl" text-anchor="end" transform="translate(202.2,173.3) rotate(-45)">3 AM</text>
<text class="xl" text-anchor="end" transform="translate(222.1,173.3) rotate(-45)">4 AM</text>
<text class="xl" text-anchor="end" transform="translate(242.0,173.3) rotate(-45)">5 AM</text>
<text class="xl" text-anchor="end" transform="translate(261.8,173.3) rotate(-45)">6 AM</text>
<text class="xl" text-anchor="end" transform="translate(281.7,173.3) rotate(-45)">7 AM</text>
<text class="xl" text-anchor="end" transform="translate(301.6,173.3) rotate(-45)">8 AM</text>
<text class="xl" text-anchor="end" transform="translate(321.4,173.3) rotate(-45)">9 AM</text>
<text class="xl" text-anchor="end" transform="translate(341.3,173.3) rotate(-45)">10 AM</text>
<text class="xl" text-anchor="end" transform="translate(361.2,173.3) rotate(-45)">11 AM</text>
<text class="xl" text-anchor="end" transform="translate(381.0,173.3) rotate(-45)">12 PM</text>
<text class="xl" text-anchor="end" transform="translate(400.9,173.3) rotate(-45)">1 PM</text>
<text class="xl" text-anchor="end" transform="translate(420.7,173.3) rotate(-45)">2 PM</text>
<text class="xl" text-anchor="end" transform="translate(440.6,173.3) rotate(-45)">3 PM</text>
<text class="xl" text-anchor="end" transform="translate(460.5,173.3) rotate(-45)">4 PM</text>
<text class="xl" text-anchor="end" transform="translate(480.3,173.3) rotate(-45)">5 PM</text>
<text class="xl" text-anchor="end" transform="translate(500.2,173.3) rotate(-45)">6 PM</text>
<text class="xl" text-anchor="end" transform="translate(520.1,173.3) rotate(-45)">7 PM</text>
<rect x="252.2" y="240" width="10.7" height="7.8" rx="1" fill="#ccc"/>
<text x="266.7" y="247" style="font-size:7.4px;font-weight:bold;fill:#222">AQI</text>
</svg>
</div>

<div class="abs" id="cc">
<div class="h"><div style="position:absolute;left:0;width:166px;top:3.8px;line-height:12px">Current Conditions</div><div style="position:absolute;left:0;width:166px;top:18px;font-size:8px;line-height:12px">observed at</div><div style="position:absolute;left:0;width:166px;top:32px;line-height:12px">Mar 20, 2021 7:00 PM (LT)</div></div>
<div class="y">76 AQI<br>Moderate<br>PM2.5</div>
<div class="hm">Health Message</div>
<div class="tx">The AQI is between 51 and 100. Air quality is<br>acceptable; however, pollution in this range<br>may pose a moderate health concern for a<br>very small number of individuals. People<br>who are unusually sensitive to ozone or<br>particle pollution may experience respiratory<br>symptoms.</div>
</div>
<div class="abs note2">Note: Values above 500 are considered Beyond the</div>
</body></html>
